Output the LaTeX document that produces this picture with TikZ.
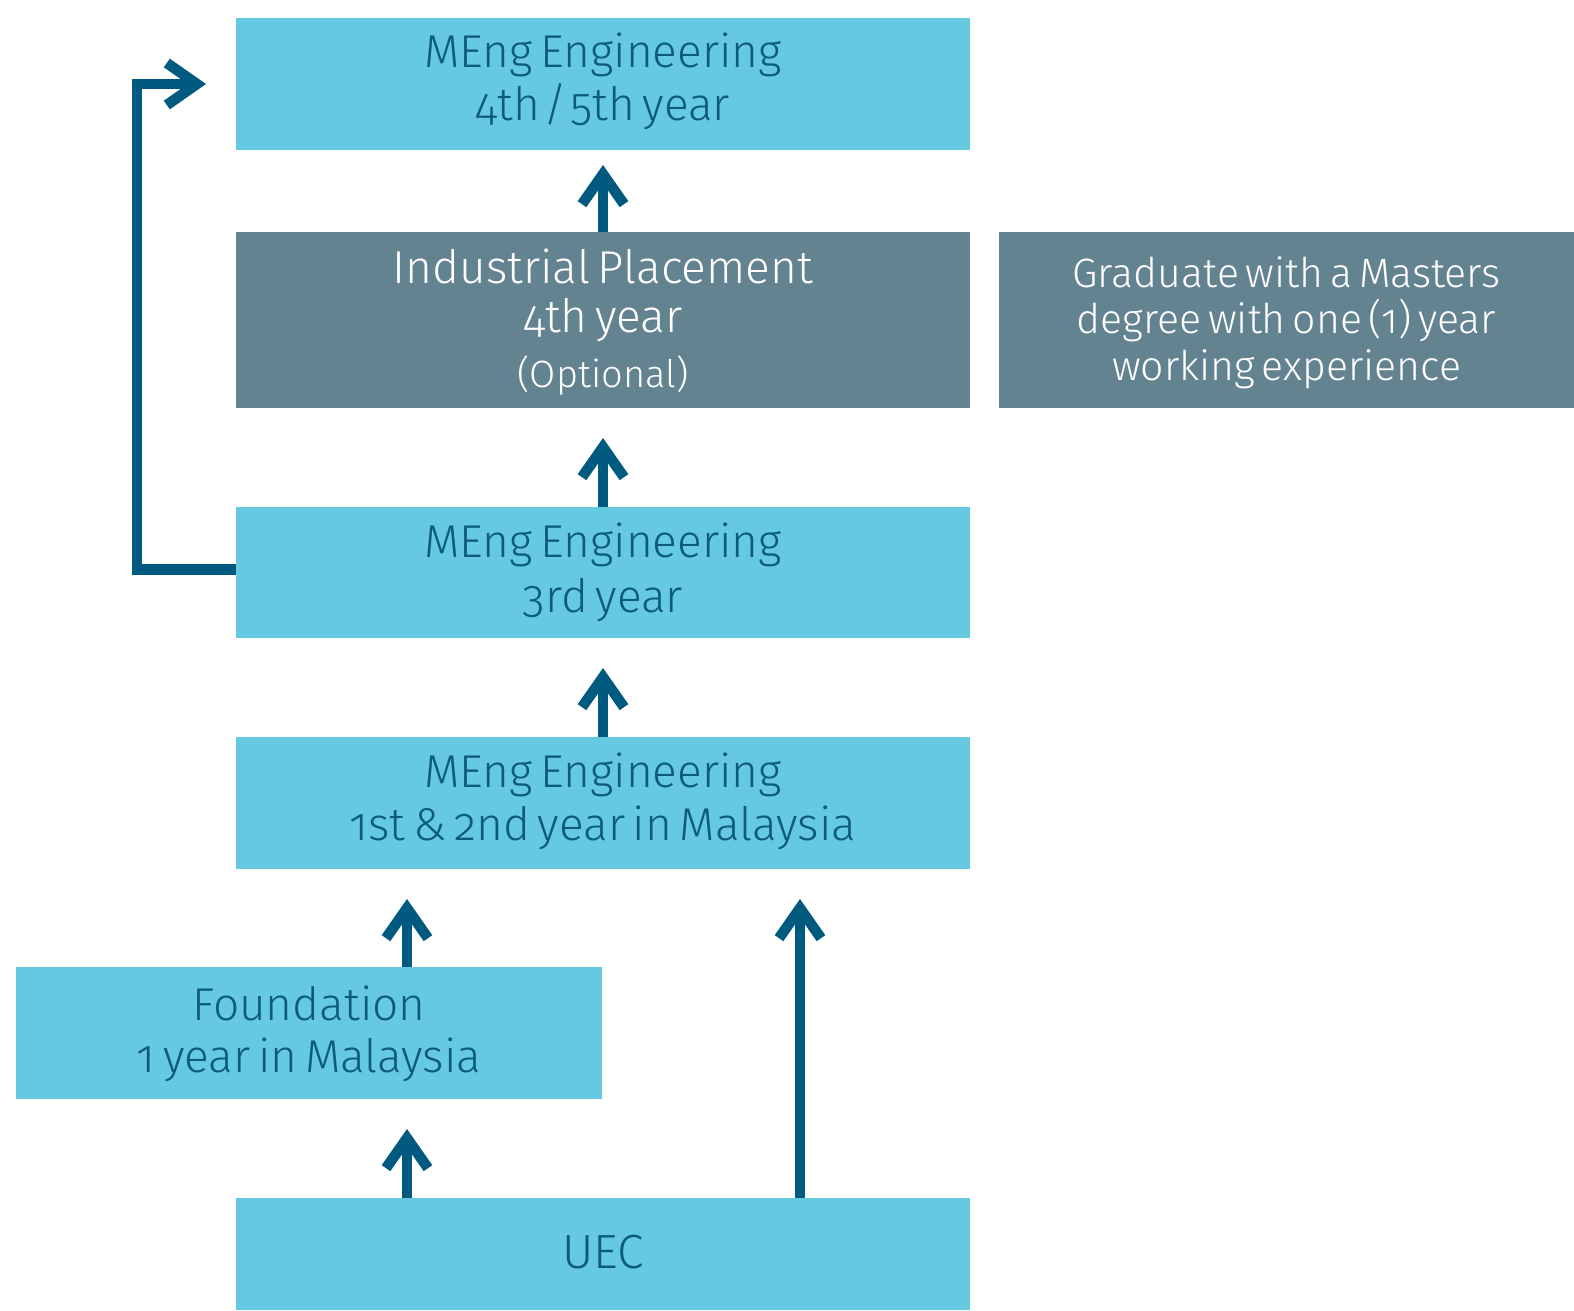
\documentclass[tikz,border=0pt]{standalone}
\usepackage{fontspec}
\usetikzlibrary{arrows.meta}
\IfFontExistsTF{Fira Sans Light}{\setmainfont{Fira Sans}[UprightFont=* Light, Numbers=OldStyle, WordSpace=0.6]}{\setmainfont{Fira Sans}[Numbers=OldStyle, WordSpace=0.6]}
\definecolor{boxblue}{HTML}{65C9E2}
\definecolor{boxgrey}{HTML}{62838F}
\definecolor{arrowblue}{HTML}{005A80}
\definecolor{textblue}{HTML}{0C5A7D}
\begin{document}
\begin{tikzpicture}[x=1pt,y=-1pt,
  box/.style={inner sep=0pt, outer sep=0pt, align=center, text depth=0pt},
  bluebox/.style={box, fill=boxblue, text=textblue},
  greybox/.style={box, fill=boxgrey, text=white},
  arr/.style={draw=arrowblue, line width=10.5pt, line join=miter,
    -{Straight Barb[sharp, length=30pt, width=42pt]}},
  ]
\fill[white] (0,0) rectangle (1574,1310);
\useasboundingbox (0,0) rectangle (1574,1310);

\node[bluebox, minimum width=734pt, minimum height=132pt, text height=72pt,
  font=\fontsize{46}{53}\selectfont] (y45) at (603,84) {MEng Engineering\\4th\kern3pt/\kern3pt5th year};
\node[greybox, minimum width=734pt, minimum height=176pt, text height=134pt,
  font=\fontsize{46}{49}\selectfont] (ip) at (603,320)
  {Industrial Placement\\4th year\\[6pt]{\fontsize{38}{49}\selectfont (Optional)}};
\node[greybox, minimum width=575pt, minimum height=176pt, text height=120pt,
  font=\fontsize{41}{46.5}\selectfont] (grad) at (1286.5,320)
  {Graduate with a Masters\\degree with one (1) year\\working experience};
\node[bluebox, minimum width=734pt, minimum height=131pt, text height=79pt,
  font=\fontsize{46}{55}\selectfont] (y3) at (603,572.5) {MEng Engineering\\3rd year};
\node[bluebox, minimum width=734pt, minimum height=132pt, text height=74pt,
  font=\fontsize{46}{53}\selectfont] (y12) at (603,803) {MEng Engineering\\1st \& 2nd year in Malaysia};
\node[bluebox, minimum width=586pt, minimum height=132pt, text height=78pt,
  font=\fontsize{46}{52}\selectfont] (fnd) at (309,1033) {Foundation\\1 year in Malaysia};
\node[bluebox, minimum width=734pt, minimum height=112pt, text height=28pt,
  font=\fontsize{48}{52}\selectfont] (uec) at (603,1254) {UEC};

\coordinate (lx) at (407,0);
\coordinate (rx) at (800,0);

\draw[arr] (ip.north) -- ([yshift=-15pt]y45.south);
\draw[arr] (y3.north) -- ([yshift=-30pt]ip.south);
\draw[arr] (y12.north) -- ([yshift=-30pt]y3.south);
\draw[arr] (fnd.north -| lx) -- ([yshift=-30pt]y12.south -| lx);
\draw[arr] (uec.north -| rx) -- ([yshift=-30pt]y12.south -| rx);
\draw[arr] (uec.north -| lx) -- ([yshift=-30pt]fnd.south -| lx);
\draw[arr] ([yshift=3pt]y3.west) -- ++(-99,0) |- ([xshift=-30pt]y45.west);
\end{tikzpicture}
\end{document}
